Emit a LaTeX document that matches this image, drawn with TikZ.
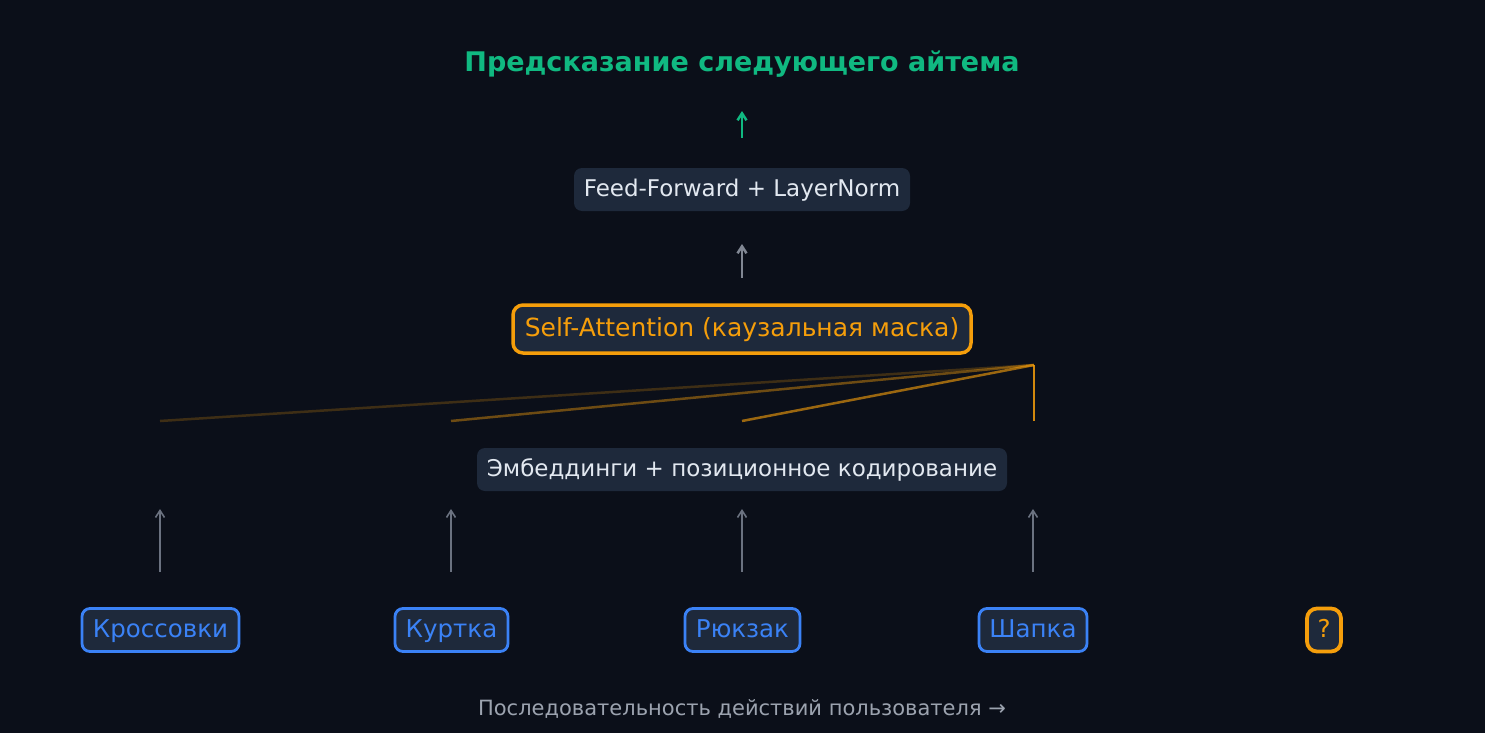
\documentclass[tikz,border=0pt]{standalone}
\usepackage{fontspec}
\setmainfont{DejaVu Sans}
\usetikzlibrary{arrows.meta}
\definecolor{bgc}{HTML}{0B0F19}
\definecolor{boxc}{HTML}{1E293B}
\definecolor{txtc}{HTML}{E2E8F0}
\definecolor{grn}{HTML}{10B981}
\definecolor{org}{HTML}{F59E0B}
\definecolor{blu}{HTML}{3B82F6}
\definecolor{gry}{HTML}{6B7280}
\definecolor{foot}{HTML}{9CA3AF}
\tikzset{
  darkbox/.style={fill=boxc, rounded corners=8pt, text=txtc, font=\fontsize{23}{27}\selectfont, inner sep=0pt, text height=16.8pt, text depth=2.6pt},
  item/.style={fill=boxc, draw=blu, line width=2.8pt, rounded corners=8pt, text=blu, font=\fontsize{24.5}{29}\selectfont, inner sep=0pt, minimum height=43pt, text height=17.9pt, text depth=2.6pt},
  flow/.style={-{Straight Barb[length=7pt,width=9pt]}, line width=1.6pt, draw=gry},
  att/.style={draw=org, line width=2.5pt},
}
\begin{document}
\begin{tikzpicture}[x=1pt,y=-1pt]
\fill[bgc] (0,0) rectangle (1485,733);
\useasboundingbox (0,0) rectangle (1485,733);

\node[text=grn, font=\fontsize{27}{32}\bfseries\selectfont, inner sep=0pt, text height=19.7pt, text depth=0pt] (title) at (742,62) {Предсказание следующего айтема};

\node[darkbox, minimum width=336pt, minimum height=43pt] (ff) at (742,189.5) {Feed-Forward + LayerNorm};
\node[darkbox, draw=org, line width=3.5pt, text=org, minimum width=458pt, minimum height=48pt, rounded corners=10pt, font=\fontsize{25}{30}\selectfont, text height=18.2pt] (sa) at (742,329) {Self-Attention (каузальная маска)};
\node[darkbox, minimum width=530pt, minimum height=43pt] (emb) at (742,469.5) {Эмбеддинги + позиционное кодирование};

\coordinate (g1) at (742,138);
\coordinate (g2) at (742,111);
\draw[flow, draw=grn, line width=2.5pt] (g1) -- (g2);
\coordinate (a1) at (742,278);
\coordinate (a2) at (742,244);
\draw[flow, line width=2.5pt, draw=gry!85!white] (a1) -- (a2);

\coordinate (q) at (1034,365);
\coordinate (k1) at (160,421);
\coordinate (k2) at (451,421);
\coordinate (k3) at (742,421);
\coordinate (k4) at (1034,421);
\draw[att, draw opacity=0.22] (q) -- (k1);
\draw[att, draw opacity=0.42] (q) -- (k2);
\draw[att, draw opacity=0.62] (q) -- (k3);
\draw[att, draw opacity=0.85] (q) -- (k4);

\node[item, minimum width=157pt] (i1) at (160.5,630) {Кроссовки};
\node[item, minimum width=113pt] (i2) at (451.5,630) {Куртка};
\node[item, minimum width=115pt] (i3) at (742.5,630) {Рюкзак};
\node[item, minimum width=108pt] (i4) at (1033,630) {Шапка};
\node[item, draw=org, text=org, line width=3.8pt, rounded corners=10pt, minimum width=34pt, minimum height=43pt] (i5) at (1324,630) {?};

\foreach \x/\n in {160/1,451/2,742/3,1033/4}{
  \coordinate (s\n) at (\x,572);
  \coordinate (e\n) at (\x,509);
  \draw[flow] (s\n) -- (e\n);
}

\node[text=foot, font=\fontsize{21}{25}\selectfont, inner sep=0pt, text height=15.3pt, text depth=0pt] (ft) at (742,708) {Последовательность действий пользователя →};
\end{tikzpicture}
\end{document}
